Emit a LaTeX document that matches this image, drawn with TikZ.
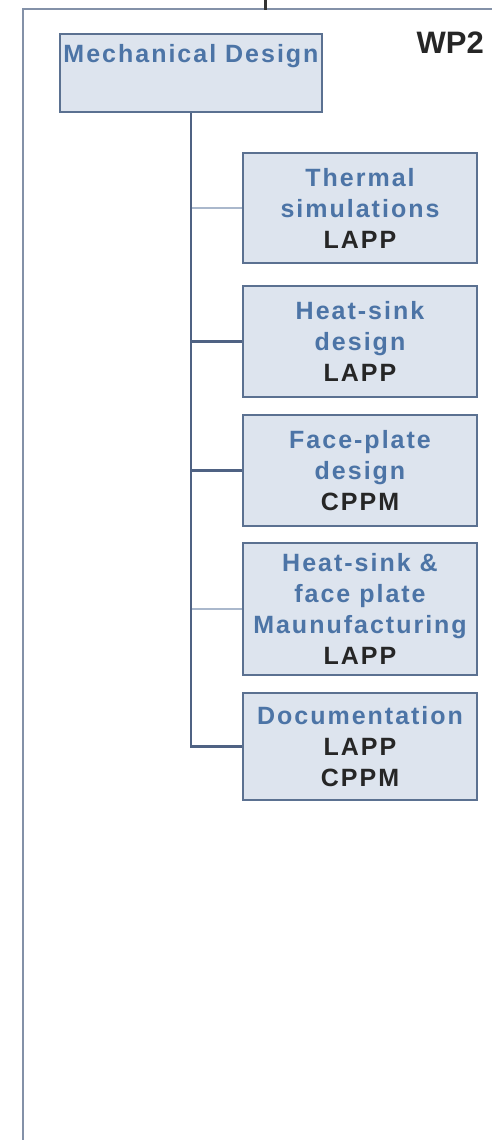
\documentclass[tikz,border=0pt]{standalone}
\usepackage{fontspec}
\setmainfont{Liberation Sans}
\newfontfamily\spaced[LetterSpace=8]{Liberation Sans}
\definecolor{boxfill}{HTML}{DDE4EE}
\definecolor{boxline}{HTML}{5B7191}
\definecolor{txtblue}{HTML}{4C74A6}
\definecolor{linkdark}{HTML}{4F6283}
\definecolor{linklight}{HTML}{AAB8CC}
\definecolor{framecol}{HTML}{8391A8}
\begin{document}
\begin{tikzpicture}[x=1pt,y=-1pt,
  wbox/.style={draw=boxline,line width=2.4pt,fill=boxfill,minimum width=234pt,inner sep=0pt,align=center,font=\spaced\fontsize{25}{31}\selectfont\bfseries,text=txtblue},
  darklink/.style={draw=linkdark,line width=2.4pt},
  lightlink/.style={draw=linklight,line width=2.4pt}]
\useasboundingbox (0,0) rectangle (492,1140);
% outer frame
\coordinate (ftl) at (23,9);
\coordinate (ftr) at (492,9);
\coordinate (fbl) at (23,1140);
\draw[framecol,line width=2.6pt] (ftr) -- (ftl) -- (fbl);
\coordinate (tickA) at (265,0);
\coordinate (tickB) at (265,10);
\draw[black!80,line width=3pt] (tickA) -- (tickB);
% top box
\node[draw=boxline,line width=2.4pt,fill=boxfill,minimum width=262pt,minimum height=78pt,inner sep=0pt] (md) at (191,73) {};
\node[anchor=base,inner sep=0pt,font=\spaced\fontsize{25}{31}\selectfont\bfseries,text=txtblue] (mdtext) at (191,63) {Mechanical Design};
\node[anchor=base east,inner sep=0pt,font=\fontsize{31}{34}\selectfont\bfseries,text=black!85] (wp) at (484,53) {WP2};
% children
\node[wbox,minimum height=110pt] (th) at (360,208) {Thermal\\simulations\\{\color{black!85}LAPP}};
\node[wbox,minimum height=111pt] (hs) at (360,341.5) {Heat-sink\\design\\{\color{black!85}LAPP}};
\node[wbox,minimum height=111pt] (fp) at (360,470.5) {Face-plate\\design\\{\color{black!85}CPPM}};
\node[wbox,minimum height=132pt] (hf) at (360,609) {Heat-sink \&\\face plate\\Maunufacturing\\{\color{black!85}LAPP}};
\node[wbox,minimum height=107pt] (doc) at (360,746.5) {Documentation\\{\color{black!85}LAPP}\\{\color{black!85}CPPM}};
% connectors
\draw[lightlink] (md.south) |- (th.west);
\draw[lightlink] (md.south) |- (hf.west);
\draw[darklink] (md.south) |- (hs.west);
\draw[darklink] (md.south) |- (fp.west);
\draw[darklink] (md.south) |- (doc.west);
\end{tikzpicture}
\end{document}
